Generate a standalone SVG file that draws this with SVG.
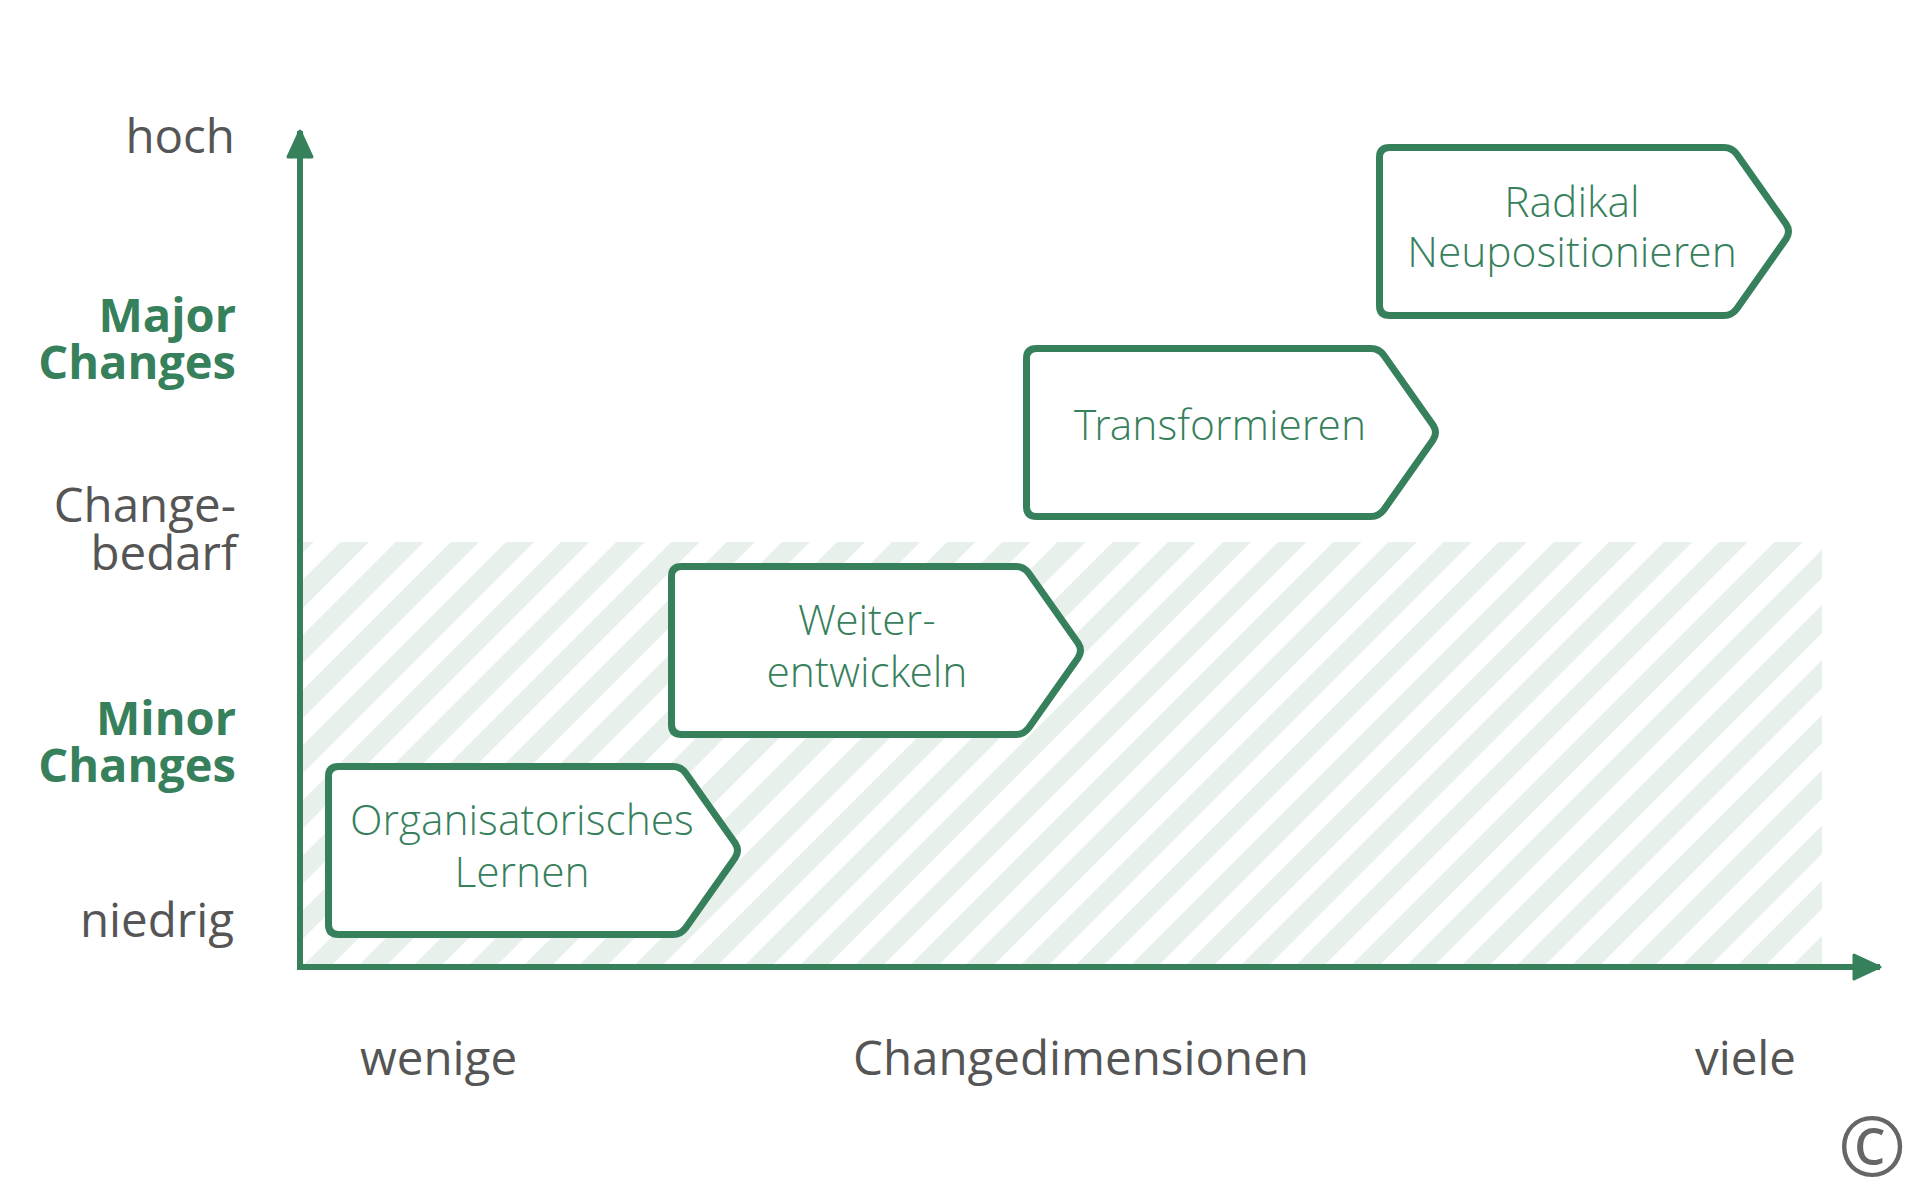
<svg xmlns="http://www.w3.org/2000/svg" xmlns:xlink="http://www.w3.org/1999/xlink" width="1920" height="1200" viewBox="0 0 1920 1200">
<style>
.lbl{font-family:"Open Sans","Liberation Sans",sans-serif;font-size:47.5px;fill:#555555;}
.bold{font-family:"Open Sans","Liberation Sans",sans-serif;font-size:47px;font-weight:700;fill:#37805c;}
.ntxt{font-family:"Open Sans Light","Open Sans","Liberation Sans",sans-serif;font-size:42.5px;font-weight:300;fill:#37805c;text-anchor:middle;}
.tag{fill:#ffffff;stroke:#37805c;stroke-width:7;stroke-linejoin:round;}
.axis{stroke:#37805c;stroke-width:6;fill:none;}
</style>
<defs>
<pattern id="hatch" patternUnits="userSpaceOnUse" width="39" height="39" patternTransform="rotate(45)">
<rect x="0" y="0" width="20" height="39" fill="#e8f0ec"/>
</pattern>
<marker id="arr" viewBox="0 0 30 28" markerWidth="30" markerHeight="28" markerUnits="userSpaceOnUse" refX="28" refY="14" orient="auto">
<path d="M2,2 L28,14 L2,26 Z" fill="#37805c" stroke="#37805c" stroke-width="3" stroke-linejoin="round"/>
</marker>
<path id="tagshape" d="M13.5 3.5 H348 Q356 3.5 361 10.5 L410 80 Q415 87.5 410 95 L361 164.5 Q356 171.5 348 171.5 H13.5 Q3.5 171.5 3.5 161.5 V13.5 Q3.5 3.5 13.5 3.5 Z"/>
</defs>
<rect width="1920" height="1200" fill="#ffffff"/>
<rect id="hatch-area" x="300" y="542" width="1522" height="425" fill="url(#hatch)"/>

<g id="connectors">
<line class="axis" x1="300" y1="970" x2="300" y2="131" marker-end="url(#arr)"/>
<line class="axis" x1="297" y1="967" x2="1880" y2="967" marker-end="url(#arr)"/>
</g>

<g id="y-labels" text-anchor="end">
<text class="lbl" x="235" y="153">hoch</text>
<text class="bold" x="236" y="332">Major</text>
<text class="bold" x="236" y="379">Changes</text>
<text class="lbl" x="236" y="522">Change-</text>
<text class="lbl" x="237" y="570">bedarf</text>
<text class="bold" x="236" y="735">Minor</text>
<text class="bold" x="236" y="782">Changes</text>
<text class="lbl" x="234" y="937">niedrig</text>
</g>

<g id="x-labels">
<text class="lbl" x="360" y="1075">wenige</text>
<text class="lbl" x="1081" y="1075" text-anchor="middle">Changedimensionen</text>
<text class="lbl" x="1796" y="1075" text-anchor="end">viele</text>
</g>

<g id="node-organisatorisches-lernen" transform="translate(325,763)">
<use xlink:href="#tagshape" class="tag"/>
<text class="ntxt" x="197" y="72">Organisatorisches</text>
<text class="ntxt" x="197" y="124">Lernen</text>
</g>

<g id="node-weiterentwickeln" transform="translate(668,563)">
<use xlink:href="#tagshape" class="tag"/>
<text class="ntxt" x="199" y="72">Weiter-</text>
<text class="ntxt" x="199" y="124">entwickeln</text>
</g>

<g id="node-transformieren" transform="translate(1023,345)">
<use xlink:href="#tagshape" class="tag"/>
<text class="ntxt" x="197" y="95">Transformieren</text>
</g>

<g id="node-radikal-neupositionieren" transform="translate(1376,144)">
<use xlink:href="#tagshape" class="tag"/>
<text class="ntxt" x="196" y="73">Radikal</text>
<text class="ntxt" x="196" y="123">Neupositionieren</text>
</g>

<g id="copyright">
<text x="1872" y="1176" text-anchor="middle" font-family="Open Sans, Liberation Sans, sans-serif" font-size="82" fill="#666666">©</text>
</g>
</svg>
